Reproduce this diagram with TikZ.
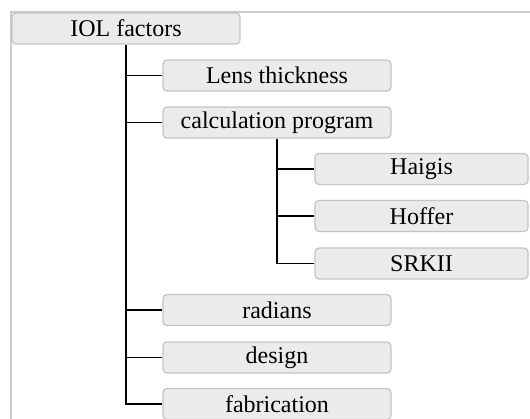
\documentclass[tikz,border=0pt]{standalone}
\usepackage{fontspec}
\setmainfont{Liberation Serif}
\definecolor{boxfill}{HTML}{EBEBEB}
\definecolor{boxline}{HTML}{C4C4C4}
\definecolor{frameline}{HTML}{CCCCCC}
\begin{document}
\begin{tikzpicture}[x=1pt,y=-1pt,
  tbox/.style={draw=boxline,fill=boxfill,line width=1.2pt,rounded corners=4pt,
    minimum height=31pt,inner sep=0pt,font=\fontsize{24}{27}\selectfont},
  wbox/.style={tbox,minimum width=228pt},
  sbox/.style={tbox,minimum width=213pt},
  conn/.style={line width=1.5pt,black}]
\useasboundingbox (0,0) rectangle (530,418);
\clip (0,0) rectangle (530,418);
\draw[frameline,line width=1.5pt] (11,440) -- (11,12) -- (560,12);
\node[wbox] (iol) at (126,28.5) {IOL factors};
\node[wbox] (lens) at (277,75.5) {Lens thickness};
\node[wbox] (calc) at (277,122.5) {calculation program};
\node[sbox] (haigis) at (421.5,169) {Haigis};
\node[sbox] (hoffer) at (421.5,216) {Hoffer};
\node[sbox] (srk) at (421.5,263.5) {SRKII};
\node[wbox] (rad) at (277,310) {radians};
\node[wbox] (design) at (277,357.5) {design};
\node[wbox] (fab) at (277,404) {fabrication};
\draw[conn] (iol.south) |- (fab.west);
\foreach \n in {lens,calc,rad,design}
  \draw[conn] (iol.south |- \n.west) -- (\n.west);
\draw[conn] (calc.south) |- (srk.west);
\foreach \n in {haigis,hoffer}
  \draw[conn] (calc.south |- \n.west) -- (\n.west);
\end{tikzpicture}
\end{document}
